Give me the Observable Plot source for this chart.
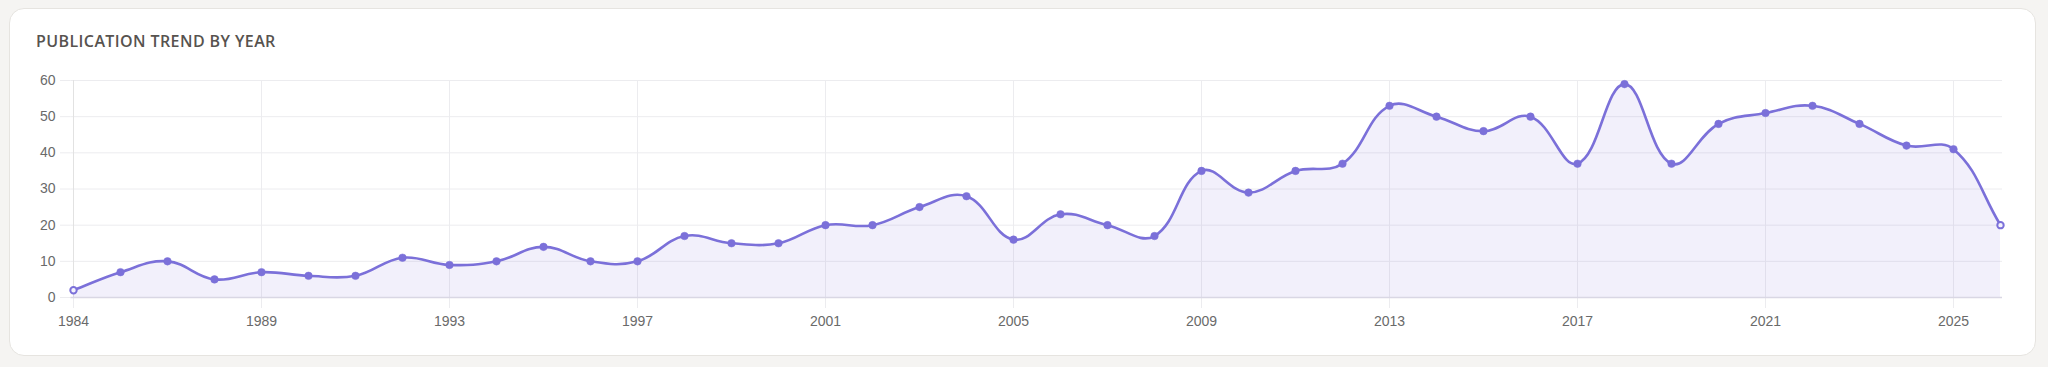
<!DOCTYPE html>
<html>
<head>
<meta charset="utf-8">
<script src="https://cdn.jsdelivr.net/npm/d3@7"></script>
<script src="https://cdn.jsdelivr.net/npm/@observablehq/plot@0.6"></script>
<style>
  html, body { margin: 0; padding: 0; background: #f5f4f2; width: 2048px; height: 367px; overflow: hidden; }
  #card { position: absolute; left: 9px; top: 8px; width: 2027px; height: 348px; background: #fff;
          border: 1px solid #e6e4e0; border-radius: 15px; box-sizing: border-box; }
  #title { position: absolute; left: 36px; top: 30px; font-family: "Open Sans", sans-serif; font-weight: 600;
           font-size: 16px; letter-spacing: 0.4px; color: #57534f; white-space: nowrap; line-height: 22px; }
  #chart { position: absolute; left: 0; top: 60px; }
</style>
</head>
<body>
<div id="card"></div>
<div id="title">PUBLICATION TREND BY YEAR</div>
<div id="chart"></div>
<script>
const years = ["1984","1985","1986","1987","1989","1990","1991","1992","1993","1994","1995","1996","1997",
  "1998","1999","2000","2001","2002","2003","2004","2005","2006","2007","2008","2009","2010","2011","2012",
  "2013","2014","2015","2016","2017","2018","2019","2020","2021","2022","2023","2024","2025","2026"];
const counts = [2,7,10,5,7,6,6,11,9,10,14,10,10,17,15,15,20,20,25,28,16,23,20,17,35,29,35,37,
  53,50,46,50,37,59,37,48,51,53,48,42,41,20];
const xTickLabels = ["1984","1989","1993","1997","2001","2005","2009","2013","2017","2021","2025"];
const yTickValues = [0,10,20,30,40,50,60];

const data = years.map((year, i) => ({year, count: counts[i]}));

const W = 2048, H = 270, mT = 20, mB = 33, mL = 70.5, mR = 46;
const LINE = "#7b70d9";
const GRID = "#ececef";

// Chart.js-style spline (tension 0.4) as a d3 curve factory
function makeCurve(tension, x0, x1, y0, y1) {
  function C(context) { this._context = context; }
  C.prototype = {
    areaStart() { this._line = 0; },
    areaEnd() { this._line = NaN; },
    lineStart() { this._pts = []; },
    point(x, y) { this._pts.push([+x, +y]); },
    lineEnd() {
      const p = this._pts, ctx = this._context, n = p.length;
      if (n) {
        if (this._line) ctx.lineTo(p[0][0], p[0][1]); else ctx.moveTo(p[0][0], p[0][1]);
        if (n === 2) ctx.lineTo(p[1][0], p[1][1]);
        else if (n > 2) {
          const cp = [];
          const clampX = v => Math.max(x0, Math.min(x1, v));
          const clampY = v => Math.max(y0, Math.min(y1, v));
          for (let i = 0; i < n; i++) {
            const prev = p[i - 1] || p[i], cur = p[i], next = p[i + 1] || p[i];
            const d01 = Math.hypot(cur[0] - prev[0], cur[1] - prev[1]);
            const d12 = Math.hypot(next[0] - cur[0], next[1] - cur[1]);
            let s01 = d01 / (d01 + d12), s12 = d12 / (d01 + d12);
            if (!isFinite(s01)) s01 = 0; if (!isFinite(s12)) s12 = 0;
            const fa = tension * s01, fb = tension * s12;
            cp.push({
              inX: clampX(cur[0] - fa * (next[0] - prev[0])), inY: clampY(cur[1] - fa * (next[1] - prev[1])),
              outX: clampX(cur[0] + fb * (next[0] - prev[0])), outY: clampY(cur[1] + fb * (next[1] - prev[1]))
            });
          }
          for (let i = 0; i < n - 1; i++) {
            ctx.bezierCurveTo(cp[i].outX, cp[i].outY, cp[i + 1].inX, cp[i + 1].inY, p[i + 1][0], p[i + 1][1]);
          }
        }
      }
      if (this._line || (this._line !== 0 && n === 1)) ctx.closePath();
      this._line = 1 - this._line;
    }
  };
  return context => new C(context);
}
const curve = makeCurve(0.4, mL, W - mR, mT, H - mB);

const ends = [data[0], data[data.length - 1]];
const middle = data.slice(1, -1);

const chart = Plot.plot({
  width: W, height: H,
  marginTop: mT, marginBottom: mB, marginLeft: mL, marginRight: mR,
  style: {fontFamily: "'Liberation Sans', Arial, sans-serif", fontSize: "14px", background: "transparent", overflow: "visible"},
  x: {type: "point", domain: years, padding: 0, axis: null},
  y: {domain: [0, 60], axis: null},
  marks: [
    Plot.gridY(yTickValues, {stroke: GRID, strokeOpacity: 1}),
    Plot.gridX(xTickLabels, {stroke: GRID, strokeOpacity: 1}),
    Plot.axisY(yTickValues, {tickSize: 10.5, tickPadding: 5, stroke: GRID, fill: "#6a6a6a", fontSize: 14, label: null}),
    Plot.axisX(xTickLabels, {tickSize: 11, tickPadding: 7.5, stroke: GRID, fill: "#6a6a6a", fontSize: 14, label: null}),
    Plot.ruleX([years[0]], {stroke: "#e2e2e2"}),
    Plot.areaY(data, {x: "year", y: "count", fill: LINE, fillOpacity: 0.1, curve}),
    Plot.ruleY([0], {stroke: "#d9d7e4", strokeWidth: 1.5}),
    Plot.lineY(data, {x: "year", y: "count", stroke: LINE, strokeWidth: 2.6, curve}),
    Plot.dot(middle, {x: "year", y: "count", r: 3.8, fill: LINE, stroke: LINE, strokeWidth: 0.5}),
    Plot.dot(ends, {x: "year", y: "count", r: 3.2, fill: "#f3f2fc", stroke: LINE, strokeWidth: 2})
  ]
});
document.getElementById("chart").appendChild(chart);
</script>
</body>
</html>
